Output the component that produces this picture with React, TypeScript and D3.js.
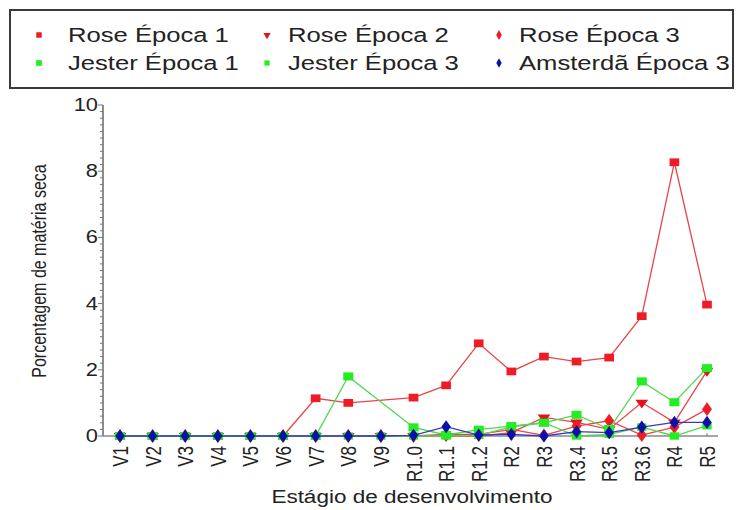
import { useEffect, useRef } from "react";
import * as d3 from "d3";

const stages = [
  "V1", "V2", "V3", "V4", "V5", "V6", "V7", "V8", "V9",
  "R1.0", "R1.1", "R1.2", "R2", "R3", "R3.4", "R3.5", "R3.6", "R4", "R5",
];

const roseEpoca1 = [0, 0, 0, 0, 0, 0, 1.14, 1.0, null, 1.16, 1.53, 2.8, 1.95, 2.4, 2.25, 2.37, 3.62, 8.27, 3.97];
const roseEpoca2 = [0, 0, 0, 0, 0, 0, 0, 0, 0, 0, 0, 0, 0.1, 0.56, 0.41, 0.2, 1.01, 0.41, 1.97];
const roseEpoca3 = [0, 0, 0, 0, 0, 0, 0, 0, 0, 0, 0.05, 0.05, 0.2, 0.02, 0.3, 0.46, 0.03, 0.27, 0.81];
const jesterEpoca1 = [0, 0, 0, 0, 0, 0, 0, 1.8, null, 0.26, 0.03, 0.19, 0.3, 0.4, 0.64, 0.21, 1.65, 1.02, 2.05];
const jesterEpoca3 = [0, 0, 0, 0, 0, 0, 0, 0, 0, 0, 0, 0.02, 0.28, 0.4, 0, 0.05, 0.27, 0, 0.31];
const amsterdaEpoca3 = [0, 0, 0, 0, 0, 0, 0, 0, 0, 0.02, 0.28, 0.03, 0.05, 0, 0.13, 0.1, 0.27, 0.41, 0.41];

const yTicks = [0, 2, 4, 6, 8, 10];

type Series = {
  name: string;
  values: (number | null)[];
  line: string;
  fill: string;
  symbol: d3.SymbolType;
  size: number;
  rotate?: number;
};

const series: Series[] = [
  { name: "Rose Época 1", values: roseEpoca1, line: "#e8454a", fill: "#ee1c24", symbol: d3.symbolSquare, size: 60 },
  { name: "Rose Época 2", values: roseEpoca2, line: "#e8454a", fill: "#e0141c", symbol: d3.symbolTriangle, size: 45, rotate: 180 },
  { name: "Rose Época 3", values: roseEpoca3, line: "#e8454a", fill: "#ee1c24", symbol: d3.symbolDiamond, size: 55 },
  { name: "Jester Época 1", values: jesterEpoca1, line: "#4ed84e", fill: "#22ee22", symbol: d3.symbolSquare, size: 65 },
  { name: "Jester Época 3", values: jesterEpoca3, line: "#4ed84e", fill: "#22ee22", symbol: d3.symbolSquare, size: 55 },
  { name: "Amsterdã Época 3", values: amsterdaEpoca3, line: "#3a3ac0", fill: "#0a10a8", symbol: d3.symbolDiamond, size: 50 },
];

const font = "Liberation Sans, Arial, sans-serif";
// the source picture is stretched sideways, so every text is widened a bit
const SX = 1.25;

export default function App() {
  const ref = useRef<SVGSVGElement>(null);

  useEffect(() => {
    if (!ref.current) return;
    const svg = d3.select(ref.current);
    svg.selectAll("*").remove();

    const x = d3.scalePoint<string>().domain(stages).range([120, 707]);
    const y = d3.scaleLinear().domain([0, 10]).range([436, 105]);

    // legend box
    svg.append("rect")
      .attr("x", 10).attr("y", 10).attr("width", 723).attr("height", 78)
      .attr("fill", "white").attr("stroke", "#3a3a3a").attr("stroke-width", 2);

    const legendCols = [39, 267, 499];
    const legendTextX = [68, 288, 519];
    const legendRows = [35, 63];
    series.forEach((s, i) => {
      const col = i % 3;
      const ly = legendRows[Math.floor(i / 3)];
      svg.append("path")
        .attr("d", d3.symbol().type(s.symbol).size(s.size * 0.5)())
        .attr("transform", `translate(${legendCols[col]},${ly}) rotate(${s.rotate ?? 0})`)
        .attr("fill", s.fill);
      svg.append("text")
        .attr("transform", `translate(${legendTextX[col]},${ly + 7}) scale(${SX},1)`)
        .attr("font-family", font).attr("font-size", 20.5).attr("fill", "#222")
        .text(s.name);
    });

    // y axis
    const g = svg.append("g");
    g.append("line")
      .attr("x1", 103).attr("x2", 103).attr("y1", y(10)).attr("y2", y(0))
      .attr("stroke", "#666").attr("stroke-width", 1.5);
    d3.range(0, 10.01, 0.2).forEach((v) => {
      const major = yTicks.includes(Math.round(v * 100) / 100);
      g.append("line")
        .attr("x1", major ? 98 : 100).attr("x2", 103)
        .attr("y1", y(v)).attr("y2", y(v))
        .attr("stroke", "#777").attr("stroke-width", 1);
    });
    yTicks.forEach((t) => {
      g.append("text")
        .attr("transform", `translate(98,${y(t) + 6}) scale(${SX},1)`)
        .attr("text-anchor", "end")
        .attr("font-family", font).attr("font-size", 17.5).attr("fill", "#222")
        .text(t);
    });

    // x axis
    g.append("line")
      .attr("x1", 103).attr("x2", 718).attr("y1", y(0)).attr("y2", y(0))
      .attr("stroke", "#888").attr("stroke-width", 1.5);
    stages.forEach((st) => {
      const px = x(st)!;
      g.append("line")
        .attr("x1", px).attr("x2", px).attr("y1", y(0)).attr("y2", y(0) - 3)
        .attr("stroke", "#777");
      g.append("text")
        .attr("transform", `translate(${px + 8},${446}) scale(${SX},1) rotate(-90)`)
        .attr("text-anchor", "end")
        .attr("font-family", font).attr("font-size", 17).attr("fill", "#222")
        .text(st);
    });

    g.append("text")
      .attr("transform", `translate(412,503) scale(${SX},1)`)
      .attr("text-anchor", "middle")
      .attr("font-family", font).attr("font-size", 18).attr("fill", "#222")
      .text("Estágio de desenvolvimento");

    g.append("text")
      .attr("transform", `translate(46,271) scale(${SX},1) rotate(-90)`)
      .attr("text-anchor", "middle")
      .attr("font-family", font).attr("font-size", 16).attr("fill", "#222")
      .text("Porcentagem de matéria seca");

    // series
    series.forEach((s) => {
      const pts = stages
        .map((st, i) => ({ st, v: s.values[i] }))
        .filter((p) => p.v !== null) as { st: string; v: number }[];
      const line = d3.line<{ st: string; v: number }>()
        .x((d) => x(d.st)!)
        .y((d) => y(d.v));
      svg.append("path")
        .attr("d", line(pts))
        .attr("fill", "none")
        .attr("stroke", s.line)
        .attr("stroke-width", 1.3);
      svg.selectAll(null)
        .data(pts)
        .enter()
        .append("path")
        .attr("d", d3.symbol().type(s.symbol).size(s.size)())
        .attr("transform", (d) => `translate(${x(d.st)},${y(d.v)}) scale(${SX},1) rotate(${s.rotate ?? 0})`)
        .attr("fill", s.fill);
    });
  }, []);

  return (
    <svg
      ref={ref}
      width={736}
      height={510}
      style={{ position: "absolute", left: 0, top: 0, background: "white" }}
    />
  );
}
